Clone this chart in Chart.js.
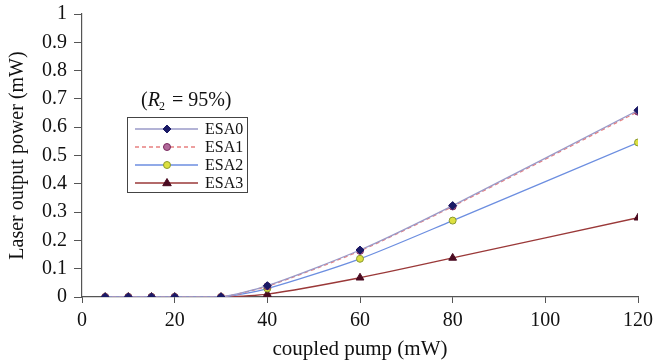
<!DOCTYPE html>
<html><head><meta charset="utf-8">
<script src="https://cdn.jsdelivr.net/npm/chart.js@4.4.1/dist/chart.umd.min.js"></script>
<style>html,body{margin:0;padding:0;background:#fff;}#wrap{width:657px;height:364px;position:relative;}</style>
</head><body><div id="wrap"><canvas id="c" width="657" height="364"></canvas></div>
<script>
const pump = [5, 10, 15, 20, 30, 40, 60, 80, 120];
const esa0 = [0, 0, 0, 0, 0, 0.04, 0.166, 0.323, 0.66];
const esa1 = [0, 0, 0, 0, 0, 0.038, 0.163, 0.32, 0.655];
const esa2 = [0, 0, 0, 0, 0, 0.03, 0.135, 0.27, 0.546];
const esa3 = [0, 0, 0, 0, 0, 0.01, 0.068, 0.138, 0.28];
const seriesNames = ['ESA0', 'ESA1', 'ESA2', 'ESA3'];
const xTicks = [0, 20, 40, 60, 80, 100, 120];
const yTicks = [0, 0.1, 0.2, 0.3, 0.4, 0.5, 0.6, 0.7, 0.8, 0.9, 1];
const annotationText = '95%';

const toPts = arr => arr.map((v, i) => ({x: pump[i], y: v}));
const FONT = '"Liberation Serif", "Times New Roman", serif';

const styles = [
  {line: '#9a9ac8', dash: [], pt: 'rectRot', ptR: 4, ptBg: '#1a1a66', ptBd: '#1a1a66'},
  {line: '#e88080', dash: [4, 3], pt: 'circle', ptR: 3.5, ptBg: '#b06a9a', ptBd: '#7a2a60'},
  {line: '#6c8ee0', dash: [], pt: 'circle', ptR: 3.5, ptBg: '#dde040', ptBd: '#8a9a30'},
  {line: '#9a3838', dash: [], pt: 'triangle', ptR: 4.5, ptBg: '#4a0a20', ptBd: '#4a0a20'}
];
const values = [esa0, esa1, esa2, esa3];

const datasets = values.map((v, i) => ({
  label: seriesNames[i],
  data: toPts(v),
  borderColor: styles[i].line,
  borderWidth: 1.3,
  borderDash: styles[i].dash,
  pointStyle: styles[i].pt,
  pointRadius: styles[i].ptR,
  pointBackgroundColor: styles[i].ptBg,
  pointBorderColor: styles[i].ptBd,
  pointBorderWidth: 1,
  tension: 0.25,
  fill: false,
  order: i
}));

function drawMarker(ctx, style, x, y) {
  ctx.save();
  ctx.fillStyle = style.ptBg; ctx.strokeStyle = style.ptBd; ctx.lineWidth = 1;
  ctx.setLineDash([]);
  const r = style.ptR;
  ctx.beginPath();
  if (style.pt === 'rectRot') {
    ctx.moveTo(x, y - r); ctx.lineTo(x + r, y); ctx.lineTo(x, y + r); ctx.lineTo(x - r, y); ctx.closePath();
  } else if (style.pt === 'triangle') {
    ctx.moveTo(x, y - r); ctx.lineTo(x + r * 0.95, y + r * 0.6); ctx.lineTo(x - r * 0.95, y + r * 0.6); ctx.closePath();
  } else {
    ctx.arc(x, y, r, 0, Math.PI * 2);
  }
  ctx.fill(); ctx.stroke();
  ctx.restore();
}

const legendPlugin = {
  id: 'customLegend',
  afterDraw(chart) {
    const ctx = chart.ctx;
    ctx.save();
    ctx.fillStyle = '#111';
    ctx.textBaseline = 'alphabetic';
    let x = 141, y = 106;
    ctx.font = '20px ' + FONT;
    ctx.fillText('(', x, y); x += ctx.measureText('(').width;
    ctx.font = 'italic 20px ' + FONT;
    ctx.fillText('R', x, y); x += ctx.measureText('R').width - 1;
    ctx.font = '12px ' + FONT;
    ctx.fillText('2', x, y + 4); x += ctx.measureText('2').width + 2;
    ctx.font = '20px ' + FONT;
    const rest = ' = ' + annotationText + ')';
    ctx.fillText(rest, x, y);
    const bx = 127, by = 117, bw = 120, bh = 75;
    ctx.strokeStyle = '#444'; ctx.lineWidth = 1;
    ctx.strokeRect(bx + 0.5, by + 0.5, bw, bh);
    ctx.font = '16px ' + FONT;
    ctx.textBaseline = 'middle';
    seriesNames.forEach((n, i) => {
      const yy = 129 + i * 18;
      const st = styles[i];
      ctx.strokeStyle = st.line; ctx.lineWidth = 1.3; ctx.setLineDash(st.dash);
      ctx.beginPath(); ctx.moveTo(135, yy); ctx.lineTo(198, yy); ctx.stroke();
      drawMarker(ctx, st, 167, yy);
      ctx.fillStyle = '#111';
      ctx.fillText(n, 205, yy + 1);
    });
    ctx.restore();
  }
};

new Chart(document.getElementById('c'), {
  type: 'line',
  data: {datasets},
  options: {
    responsive: false,
    animation: false,
    devicePixelRatio: 1,
    layout: {padding: {top: 14, right: 19, left: 0, bottom: 0}},
    plugins: {legend: {display: false}, tooltip: {enabled: false}},
    scales: {
      x: {
        type: 'linear', min: 0, max: 120,
        afterBuildTicks: s => { s.ticks = xTicks.map(v => ({value: v})); },
        afterFit: s => { s.height = 67; s.paddingLeft = 0; s.paddingRight = 0; },
        border: {color: '#555', width: 1.2},
        grid: {drawOnChartArea: false, tickLength: 6, color: '#555'},
        ticks: {color: '#111', font: {family: FONT, size: 20}, padding: 6, maxRotation: 0},
        title: {display: true, text: 'coupled pump (mW)', color: '#111', font: {family: FONT, size: 21}, padding: {top: 2, bottom: 2}}
      },
      y: {
        type: 'linear', min: 0, max: 1,
        afterBuildTicks: s => { s.ticks = yTicks.map(v => ({value: v})); },
        afterFit: s => { s.width = 82; s.paddingTop = 0; s.paddingBottom = 0; },
        border: {color: '#555', width: 1.2},
        grid: {drawOnChartArea: false, tickLength: 8, color: '#555'},
        ticks: {color: '#111', font: {family: FONT, size: 20}, padding: 7,
          callback: v => String(Math.round(v * 10) / 10)},
        title: {display: true, text: 'Laser output power (mW)', color: '#111', font: {family: FONT, size: 20}, padding: {top: 6, bottom: 0}}
      }
    }
  },
  plugins: [legendPlugin]
});
</script></body></html>
